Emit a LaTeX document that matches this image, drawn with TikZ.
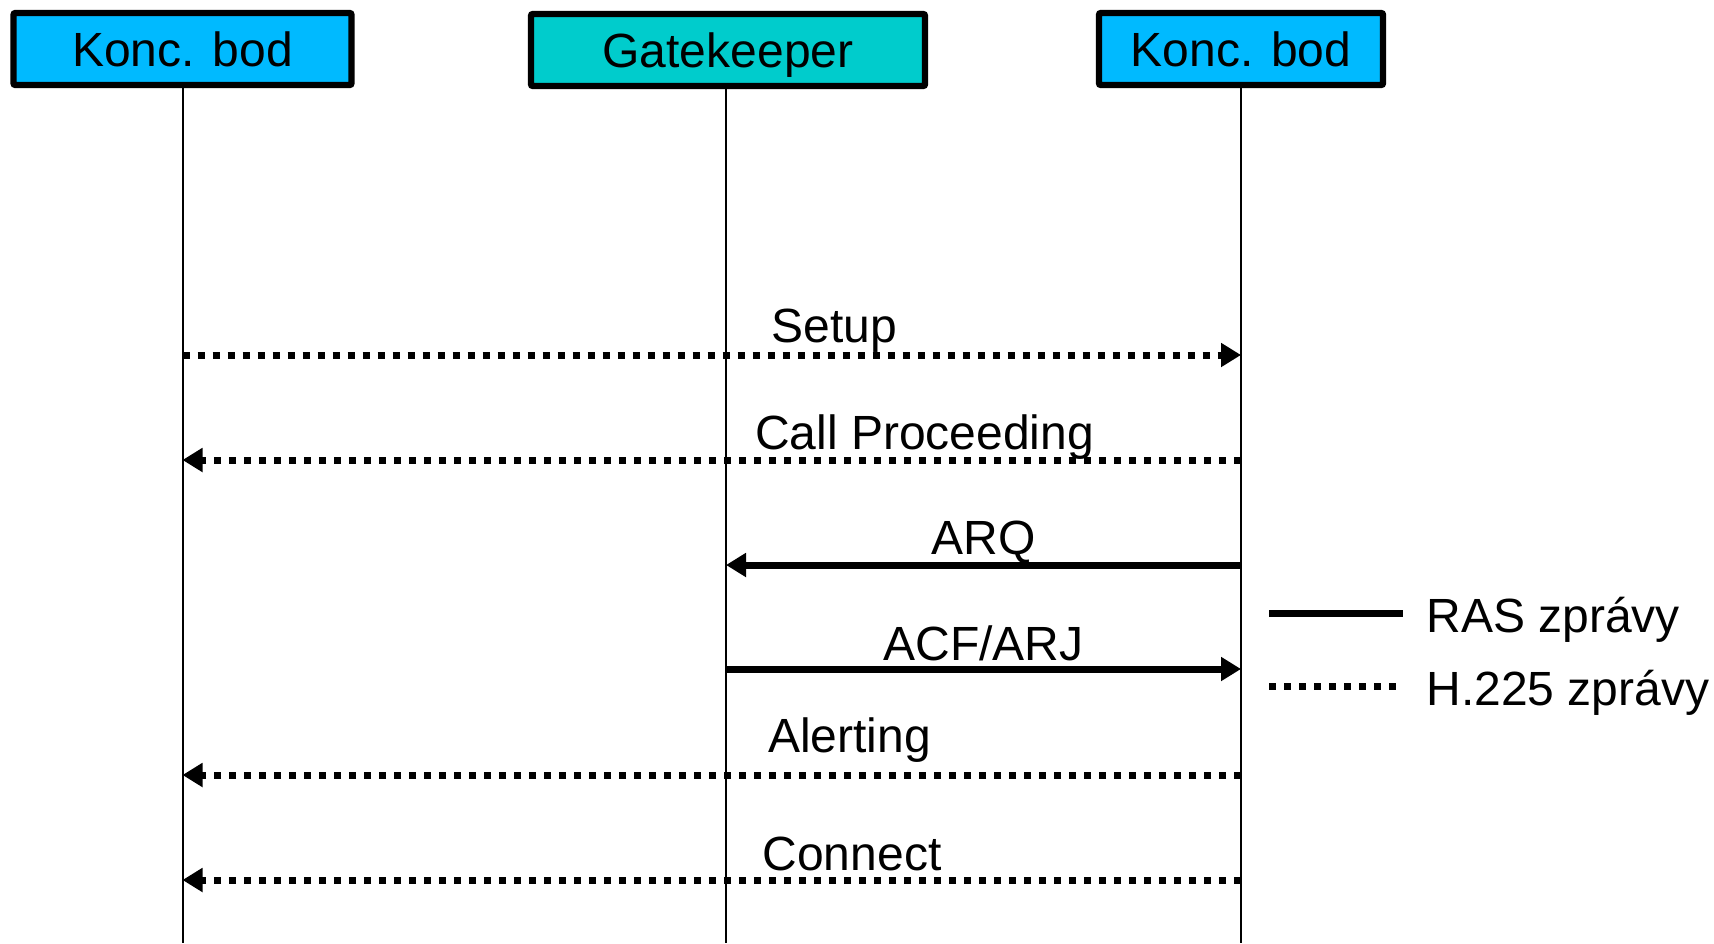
\documentclass[tikz,border=0pt]{standalone}
\usepackage{fontspec}
\setmainfont{Liberation Sans}
\usetikzlibrary{arrows.meta}
\definecolor{endpointfill}{RGB}{0,186,255}
\definecolor{gatefill}{RGB}{0,204,204}

\begin{document}
\begin{tikzpicture}[x=0.5pt,y=-0.5pt,
  every node/.style={font=\fontsize{24}{28}\selectfont, inner sep=0pt},
  actor/.style={draw=black, line width=3.2pt, rounded corners=1pt,
    minimum height=36pt, text height=17.2pt, text depth=0pt},
  lifeline/.style={line width=1pt},
  ras/.style={line width=3.5pt, -{Triangle[length=10pt,width=11.5pt]}},
  h225/.style={ras, dash pattern=on 3.5pt off 4pt},
  legendline/.style={line width=3.5pt},
  legenddots/.style={legendline, dash pattern=on 3.5pt off 4pt},
  msg/.style={anchor=base},
]
\useasboundingbox (0,0) rectangle (1714,943);

% participants
\node[actor, fill=endpointfill, minimum width=169pt] (e1) at (182.5,49) {Konc. bod};
\node[actor, fill=gatefill, minimum width=197pt] (gk) at (728,50) {Gatekeeper};
\node[actor, fill=endpointfill, minimum width=142pt] (e2) at (1241,49) {Konc. bod};

% lifeline ends
\coordinate (e1end) at (182.5,943);
\coordinate (gkend) at (726,943);
\coordinate (e2end) at (1241,943);
\draw[lifeline] (e1.south) -- (e1end);
\draw[lifeline] (gk.south -| gkend) -- (gkend);
\draw[lifeline] (e2.south) -- (e2end);

% message points on the lifelines
\coordinate (e1m1) at (182.5,355);  \coordinate (e2m1) at (1241,355);
\coordinate (e1m2) at (182.5,460);  \coordinate (e2m2) at (1241,460);
\coordinate (gkm3) at (726,565);    \coordinate (e2m3) at (1241,565);
\coordinate (gkm4) at (726,669);    \coordinate (e2m4) at (1241,669);
\coordinate (e1m5) at (182.5,775);  \coordinate (e2m5) at (1241,775);
\coordinate (e1m6) at (182.5,880);  \coordinate (e2m6) at (1241,880);

% messages
\draw[h225] (e1m1) -- (e2m1);
\node[msg] (setup) at (834.5,342) {Setup};
\draw[h225] (e2m2) -- (e1m2);
\node[msg] (proc) at (924.5,449) {Call Proceeding};
\draw[ras] (e2m3) -- (gkm3);
\node[msg] (arq) at (983.5,554) {ARQ};
\draw[ras] (gkm4) -- (e2m4);
\node[msg] (acf) at (983.5,660) {ACF/ARJ};
\draw[h225] (e2m5) -- (e1m5);
\node[msg] (alert) at (849.5,752) {Alerting};
\draw[h225] (e2m6) -- (e1m6);
\node[msg] (conn) at (852,870) {Connect};

% legend
\coordinate (lgA1) at (1269,613); \coordinate (lgA2) at (1403,613);
\coordinate (lgB1) at (1269,686); \coordinate (lgB2) at (1399,686);
\draw[legendline] (lgA1) -- (lgA2);
\draw[legenddots] (lgB1) -- (lgB2);
\node[anchor=base west] (rastxt) at (1426,632) {RAS zprávy};
\node[anchor=base west] (h225txt) at (1426,705) {H.225 zprávy};
\end{tikzpicture}
\end{document}
